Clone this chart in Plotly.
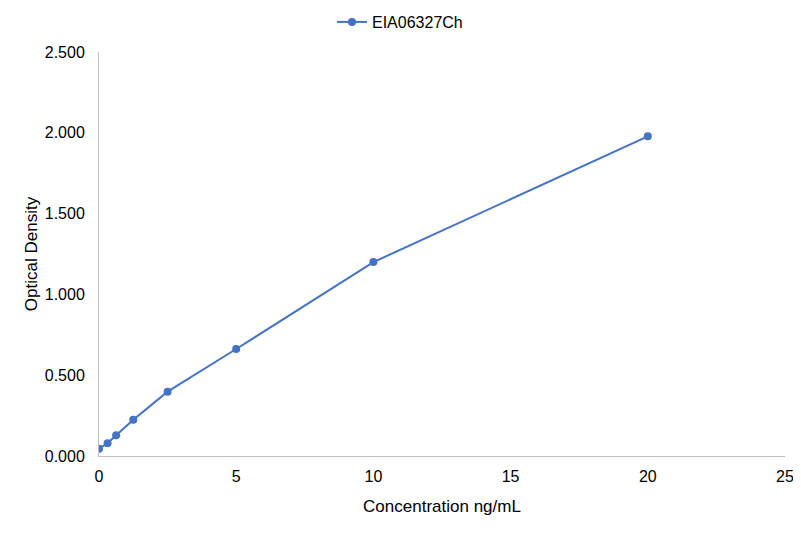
import plotly.graph_objects as go

# standard curve readings
concentration = [0, 0.3125, 0.625, 1.25, 2.5, 5, 10, 20]
optical_density = [0.045, 0.079, 0.128, 0.225, 0.398, 0.662, 1.200, 1.978]
series_name = 'EIA06327Ch'

x_ticks = [0, 5, 10, 15, 20, 25]
y_ticks = [0, 0.5, 1.0, 1.5, 2.0, 2.5]

# page body has an 8px margin, so the figure is offset by 8px in the window
W, H = 793, 525
L, R, T, B = 91, 16, 44, 77
pw, ph = W - L - R, H - T - B

fig = go.Figure()
fig.add_trace(go.Scatter(x=concentration, y=optical_density,
                         mode='lines+markers',
                         name=series_name,
                         line=dict(color='#4472C4', width=2),
                         marker=dict(color='#4472C4', size=8)))

fig.update_layout(
    width=W, height=H,
    margin=dict(l=L, r=R, t=T, b=B, autoexpand=False),
    paper_bgcolor='white',
    plot_bgcolor='white',
    font=dict(family='Liberation Sans, Arial, sans-serif', size=16, color='#000000'),
    showlegend=True,
    # legend is centred on the whole chart, not on the plot area
    legend=dict(orientation='h', x=(392 - L) / pw, xanchor='center',
                y=1 + 30 / ph, yanchor='middle',
                font=dict(size=16, color='#000000')),
    xaxis=dict(range=[0, 25], tickvals=x_ticks, showgrid=False, zeroline=False,
               showline=True, linecolor='#bfbfbf', linewidth=1, ticks='',
               ticklabelstandoff=6, ticklabeloverflow='allow', automargin=False,
               title=dict(text='Concentration ng/mL', standoff=15, font=dict(size=17))),
    yaxis=dict(range=[0, 2.5], tickvals=y_ticks, tickformat='.3f', showgrid=False,
               zeroline=False, showline=True, linecolor='#bfbfbf', linewidth=1, ticks='',
               ticklabelstandoff=10, ticklabeloverflow='allow', automargin=False,
               title=dict(text='Optical Density', standoff=2, font=dict(size=17))),
)

fig.write_html('out.html', config={'displayModeBar': False})
